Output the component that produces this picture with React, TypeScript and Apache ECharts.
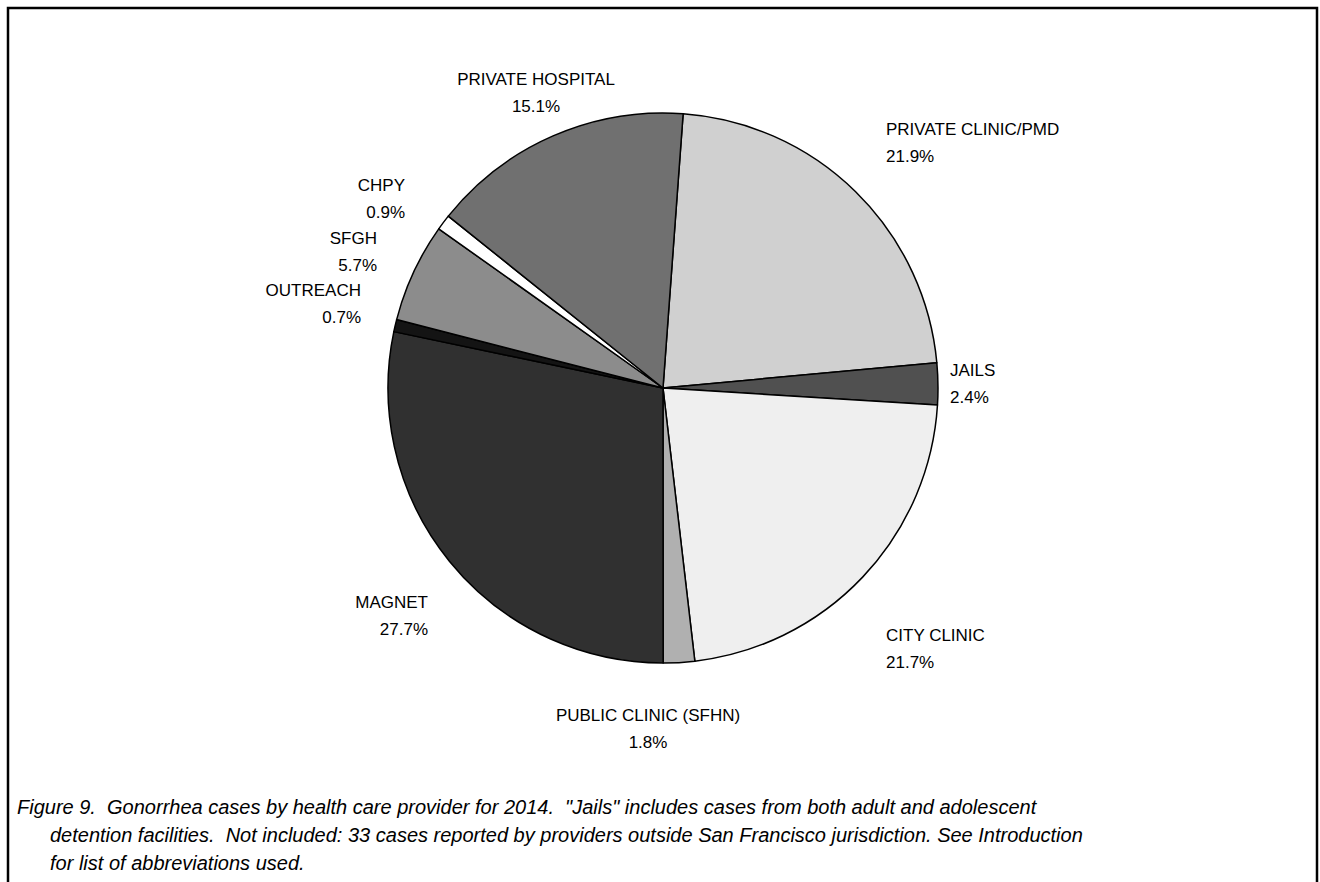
import React, { useEffect, useRef } from "react";
import * as echarts from "echarts";

const categories = [
  "PRIVATE CLINIC/PMD",
  "JAILS",
  "CITY CLINIC",
  "PUBLIC CLINIC (SFHN)",
  "MAGNET",
  "OUTREACH",
  "SFGH",
  "CHPY",
  "PRIVATE HOSPITAL",
];
const percents = [21.9, 2.4, 21.7, 1.8, 27.7, 0.7, 5.7, 0.9, 15.1];
const sliceColors = [
  "#d0d0d0",
  "#505050",
  "#efefef",
  "#b0b0b0",
  "#303030",
  "#141414",
  "#8c8c8c",
  "#ffffff",
  "#707070",
];
// label anchor: x, center y, alignment
const labelAnchors: [number, number, string][] = [
  [886, 143, "left"],
  [950, 384, "left"],
  [886, 649, "left"],
  [648, 729, "center"],
  [428, 616, "right"],
  [361, 304, "right"],
  [377, 252, "right"],
  [405, 199, "right"],
  [536, 93, "center"],
];
const captionLines = [
  "Figure 9.  Gonorrhea cases by health care provider for 2014.  \"Jails\" includes cases from both adult and adolescent",
  "detention facilities.  Not included: 33 cases reported by providers outside San Francisco jurisdiction. See Introduction",
  "for list of abbreviations used.",
];

const FONT = "'Liberation Sans', Arial, sans-serif";

export default function App() {
  const ref = useRef<HTMLDivElement>(null);
  useEffect(() => {
    if (!ref.current) return;
    const chart = echarts.init(ref.current, null, { renderer: "svg" });
    const data = categories.map((name, i) => ({
      name,
      value: percents[i],
      itemStyle: { color: sliceColors[i] },
    }));
    chart.setOption({
      animation: false,
      backgroundColor: "#ffffff",
      graphic: [
        {
          type: "rect",
          shape: { x: 8, y: 8, width: 1309, height: 900 },
          style: { fill: "none", stroke: "#000", lineWidth: 2.5 },
          silent: true,
        },
        ...captionLines.map((t, i) => ({
          type: "text",
          left: i === 0 ? 17 : 50,
          top: 797 + i * 28,
          style: {
            text: t,
            fill: "#000",
            font: `italic 20px ${FONT}`,
          },
        })),
      ],
      series: [
        {
          type: "pie",
          center: [663, 388],
          radius: [0, 275],
          startAngle: 85.8,
          clockwise: true,
          avoidLabelOverlap: false,
          data,
          itemStyle: { borderColor: "#000", borderWidth: 1.5 },
          emphasis: { disabled: true },
          label: {
            show: true,
            position: "outside",
            formatter: (p: any) => `${p.name}\n${p.value.toFixed(1)}%`,
            fontFamily: FONT,
            fontSize: 17,
            lineHeight: 27,
            color: "#000",
          },
          labelLine: { show: false },
          labelLayout: (params: any) => {
            const a = labelAnchors[params.dataIndex];
            return { x: a[0], y: a[1], align: a[2], verticalAlign: "middle" };
          },
        },
      ],
    });
    return () => chart.dispose();
  }, []);
  return (
    <div
      ref={ref}
      style={{ position: "fixed", left: 0, top: 0, width: 1320, height: 882 }}
    />
  );
}
